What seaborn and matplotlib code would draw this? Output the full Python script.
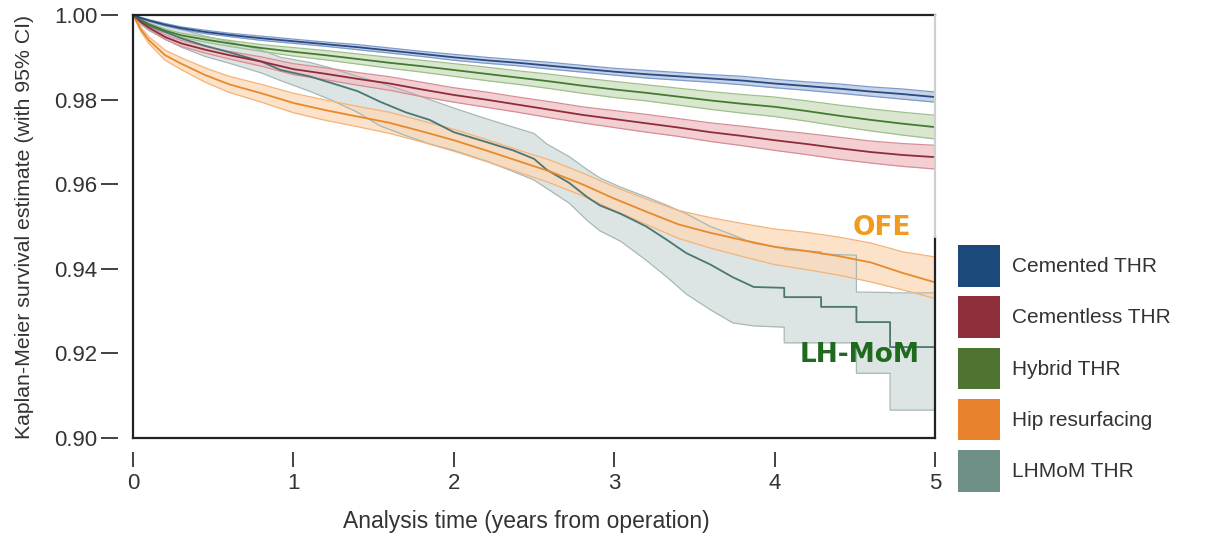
import numpy as np
import pandas as pd
import matplotlib
matplotlib.use("Agg")
import matplotlib.pyplot as plt
from matplotlib.patches import Patch
import seaborn as sns

# ---------------- data ----------------
T_MAIN = [0, 0.05, 0.1, 0.2, 0.3, 0.45, 0.6, 0.8, 1.0, 1.2, 1.4, 1.6, 1.8, 2.0, 2.2,
          2.4, 2.6, 2.8, 3.0, 3.2, 3.4, 3.6, 3.8, 4.0, 4.2, 4.4, 4.6, 4.8, 5.0]

cemented_est = [1.0, 0.9993, 0.9987, 0.9977, 0.9969, 0.9960, 0.9953, 0.9945, 0.9938, 0.9931,
                0.9924, 0.9916, 0.9908, 0.9900, 0.9893, 0.9887, 0.9880, 0.9873, 0.9866, 0.9860,
                0.9855, 0.9850, 0.9845, 0.9838, 0.9832, 0.9826, 0.9819, 0.9813, 0.9806]
cemented_lo = [1.0, 0.9992, 0.9985, 0.9974, 0.9966, 0.9956, 0.9949, 0.9940, 0.9933, 0.9926,
               0.9918, 0.9910, 0.9902, 0.9893, 0.9886, 0.9880, 0.9872, 0.9865, 0.9858, 0.9851,
               0.9846, 0.9841, 0.9835, 0.9828, 0.9822, 0.9815, 0.9808, 0.9801, 0.9794]
cemented_hi = [1.0, 0.9994, 0.9989, 0.9980, 0.9972, 0.9964, 0.9957, 0.9950, 0.9943, 0.9936,
               0.9930, 0.9922, 0.9914, 0.9907, 0.9900, 0.9894, 0.9888, 0.9881, 0.9874, 0.9869,
               0.9864, 0.9859, 0.9855, 0.9848, 0.9842, 0.9837, 0.9830, 0.9825, 0.9818]

hybrid_est = [1.0, 0.9988, 0.9978, 0.9963, 0.9952, 0.9942, 0.9933, 0.9922, 0.9913, 0.9905,
              0.9896, 0.9887, 0.9879, 0.9870, 0.9861, 0.9852, 0.9843, 0.9833, 0.9824, 0.9816,
              0.9807, 0.9798, 0.9790, 0.9783, 0.9773, 0.9762, 0.9752, 0.9743, 0.9735]
hybrid_lo = [1.0, 0.9986, 0.9975, 0.9959, 0.9947, 0.9936, 0.9926, 0.9914, 0.9903, 0.9894,
             0.9884, 0.9874, 0.9865, 0.9855, 0.9845, 0.9836, 0.9826, 0.9815, 0.9805, 0.9797,
             0.9787, 0.9777, 0.9768, 0.9760, 0.9749, 0.9737, 0.9726, 0.9716, 0.9707]
hybrid_hi = [1.0, 0.9990, 0.9981, 0.9967, 0.9957, 0.9948, 0.9940, 0.9930, 0.9923, 0.9916,
             0.9908, 0.9900, 0.9893, 0.9885, 0.9877, 0.9868, 0.9860, 0.9851, 0.9843, 0.9835,
             0.9827, 0.9819, 0.9812, 0.9806, 0.9797, 0.9787, 0.9778, 0.9770, 0.9763]

cementless_est = [1.0, 0.9983, 0.9970, 0.9948, 0.9933, 0.9918, 0.9905, 0.9890, 0.9872, 0.9861,
                  0.9849, 0.9838, 0.9824, 0.9811, 0.9800, 0.9788, 0.9776, 0.9764, 0.9754, 0.9744,
                  0.9734, 0.9723, 0.9714, 0.9704, 0.9695, 0.9685, 0.9676, 0.9669, 0.9664]
cementless_lo = [1.0, 0.9980, 0.9966, 0.9942, 0.9926, 0.9910, 0.9896, 0.9879, 0.9859, 0.9847,
                 0.9834, 0.9822, 0.9807, 0.9794, 0.9782, 0.9770, 0.9757, 0.9745, 0.9734, 0.9723,
                 0.9713, 0.9701, 0.9691, 0.9680, 0.9670, 0.9659, 0.9650, 0.9642, 0.9636]
cementless_hi = [1.0, 0.9986, 0.9974, 0.9954, 0.9940, 0.9926, 0.9914, 0.9901, 0.9885, 0.9875,
                 0.9864, 0.9854, 0.9841, 0.9828, 0.9818, 0.9806, 0.9795, 0.9783, 0.9774, 0.9765,
                 0.9755, 0.9745, 0.9737, 0.9728, 0.9720, 0.9711, 0.9702, 0.9696, 0.9692]

resurfacing_est = [1.0, 0.9965, 0.9940, 0.9905, 0.9885, 0.9858, 0.9836, 0.9815, 0.9792, 0.9775,
                   0.9760, 0.9745, 0.9725, 0.9704, 0.9680, 0.9655, 0.9630, 0.9600, 0.9566, 0.9535,
                   0.9505, 0.9485, 0.9468, 0.9452, 0.9442, 0.9430, 0.9415, 0.9390, 0.9368]
resurfacing_lo = [1.0, 0.9960, 0.9932, 0.9893, 0.9871, 0.9841, 0.9817, 0.9794, 0.9769, 0.9751,
                  0.9736, 0.9720, 0.9700, 0.9678, 0.9654, 0.9629, 0.9603, 0.9573, 0.9538, 0.9505,
                  0.9472, 0.9449, 0.9429, 0.9410, 0.9398, 0.9385, 0.9369, 0.9350, 0.9330]
resurfacing_hi = [1.0, 0.9970, 0.9948, 0.9917, 0.9899, 0.9875, 0.9855, 0.9836, 0.9815, 0.9799,
                  0.9784, 0.9770, 0.9750, 0.9730, 0.9706, 0.9681, 0.9657, 0.9627, 0.9594, 0.9565,
                  0.9538, 0.9521, 0.9507, 0.9494, 0.9486, 0.9475, 0.9461, 0.9440, 0.9428]

T_LHMOM = [0, 0.05, 0.1, 0.2, 0.3, 0.45, 0.6, 0.8, 0.92, 1.1, 1.23, 1.4, 1.54, 1.7, 1.85,
           2.0, 2.2, 2.37, 2.5, 2.58, 2.72, 2.83, 2.91, 3.04, 3.2, 3.33, 3.45, 3.6, 3.74,
           3.87, 4.06, 4.06, 4.29, 4.29, 4.51, 4.51, 4.72, 4.72, 5.0]
lhmom_est = [1.0, 0.9985, 0.9975, 0.9960, 0.9945, 0.9927, 0.9912, 0.9890, 0.9870, 0.9855,
             0.9840, 0.9820, 0.9795, 0.9770, 0.9752, 0.9723, 0.9700, 0.9680, 0.9660, 0.9634,
             0.9603, 0.9570, 0.9550, 0.9530, 0.9500, 0.9468, 0.9437, 0.9410, 0.9380, 0.9357,
             0.9355, 0.9333, 0.9333, 0.9310, 0.9310, 0.9274, 0.9274, 0.9215, 0.9215]
lhmom_hi = [1.0, 0.9993, 0.9987, 0.9977, 0.9966, 0.9950, 0.9937, 0.9917, 0.9900, 0.9888,
            0.9875, 0.9855, 0.9840, 0.9820, 0.9800, 0.9780, 0.9755, 0.9735, 0.9720, 0.9695,
            0.9665, 0.9635, 0.9615, 0.9593, 0.9570, 0.9550, 0.9530, 0.9500, 0.9480, 0.9460,
            0.9448, 0.9445, 0.9440, 0.9435, 0.9432, 0.9345, 0.9344, 0.9343, 0.9343]
lhmom_lo = [1.0, 0.9977, 0.9963, 0.9943, 0.9924, 0.9902, 0.9886, 0.9863, 0.9845, 0.9820,
            0.9800, 0.9770, 0.9738, 0.9715, 0.9695, 0.9680, 0.9655, 0.9630, 0.9610, 0.9590,
            0.9555, 0.9515, 0.9490, 0.9465, 0.9420, 0.9380, 0.9340, 0.9303, 0.9272, 0.9265,
            0.9262, 0.9225, 0.9225, 0.9225, 0.9225, 0.9153, 0.9153, 0.9066, 0.9066]

GROUPS = ["Cemented THR", "Cementless THR", "Hybrid THR", "Hip resurfacing", "LHMoM THR"]
Y_TICKS = [0.90, 0.92, 0.94, 0.96, 0.98, 1.00]
X_TICKS = [0, 1, 2, 3, 4, 5]

# ---------------- styling ----------------
LINE_COL = {"Cemented THR": "#2b4a80", "Cementless THR": "#8e2c3c", "Hybrid THR": "#437a31",
            "Hip resurfacing": "#e8892c", "LHMoM THR": "#4a7674"}
FILL_COL = {"Cemented THR": "#b3c6e4", "Cementless THR": "#efbfc4", "Hybrid THR": "#cde0c0",
            "Hip resurfacing": "#fcd9b6", "LHMoM THR": "#d2dcdb"}
EDGE_COL = {"Cemented THR": "#7d9acb", "Cementless THR": "#d58e98", "Hybrid THR": "#9fbf8c",
            "Hip resurfacing": "#f3b47a", "LHMoM THR": "#a7b8b7"}
LEG_COL = {"Cemented THR": "#1b4a7a", "Cementless THR": "#8f2f3b", "Hybrid THR": "#4f7331",
           "Hip resurfacing": "#e8822a", "LHMoM THR": "#6e9087"}

series = {
    "Cemented THR": (T_MAIN, cemented_est, cemented_lo, cemented_hi),
    "Cementless THR": (T_MAIN, cementless_est, cementless_lo, cementless_hi),
    "Hybrid THR": (T_MAIN, hybrid_est, hybrid_lo, hybrid_hi),
    "Hip resurfacing": (T_MAIN, resurfacing_est, resurfacing_lo, resurfacing_hi),
    "LHMoM THR": (T_LHMOM, lhmom_est, lhmom_lo, lhmom_hi),
}

sns.set_style("white")
plt.rcParams["font.family"] = ["Liberation Sans", "DejaVu Sans"]
plt.rcParams["text.color"] = "#333333"

W, H = 1206, 534
fig = plt.figure(figsize=(W / 100, H / 100), dpi=100)
L, R, T, B = 133, 935, 15, 438
ax = fig.add_axes([L / W, 1 - B / H, (R - L) / W, (B - T) / H])

# bands (draw the LHMoM band first so others sit on top)
band_order = ["LHMoM THR", "Hip resurfacing", "Cementless THR", "Hybrid THR", "Cemented THR"]
for g in band_order:
    t, est, lo, hi = series[g]
    ax.fill_between(t, lo, hi, color=FILL_COL[g], alpha=0.75, linewidth=0, zorder=1)
    ax.plot(t, lo, color=EDGE_COL[g], lw=0.9, zorder=2)
    ax.plot(t, hi, color=EDGE_COL[g], lw=0.9, zorder=2)

rows = []
for g in GROUPS:
    t, est, lo, hi = series[g]
    for ti, ei in zip(t, est):
        rows.append({"time": ti, "survival": ei, "group": g})
df = pd.DataFrame(rows)

sns.lineplot(data=df, x="time", y="survival", hue="group", hue_order=band_order,
             palette=LINE_COL, estimator=None, sort=False,
             legend=False, lw=1.3, ax=ax, zorder=3)

ax.set_xlim(0, 5)
ax.set_ylim(0.90, 1.00)
ax.set_xticks(X_TICKS)
ax.set_xticklabels([str(x) for x in X_TICKS], family="DejaVu Sans")
ax.set_yticks(Y_TICKS)
ax.set_yticklabels([f"{y:.2f}" for y in Y_TICKS], family="DejaVu Sans")

# detached ticks, frame drawn separately
for s in ["left", "bottom", "right", "top"]:
    ax.spines[s].set_color("none")
ax.spines["left"].set_position(("outward", 10.8))
ax.spines["bottom"].set_position(("outward", 10))
ax.tick_params(axis="y", direction="out", length=12, width=1.3, color="#333333",
               pad=3, labelsize=16, labelcolor="#333333", left=True)
ax.tick_params(axis="x", direction="out", length=10.5, width=1.3, color="#333333",
               pad=5, labelsize=16, labelcolor="#333333", bottom=True)

fr = dict(color="#222222", lw=1.6, solid_capstyle="projecting", clip_on=False, zorder=5,
          transform=ax.transAxes)
ax.plot([0, 0], [0, 1], **fr)
ax.plot([0, 1], [0, 0], **fr)
ax.plot([0, 1], [1, 1], **fr)
cut = (B - 237) / (B - T)
ax.plot([1, 1], [0, cut], **fr)
ax.plot([1, 1], [cut, 1], color="#cfcfcf", lw=1.6, clip_on=False, zorder=5,
        transform=ax.transAxes)

ax.set_xlabel("Analysis time (years from operation)", fontsize=16.5, color="#333333")
ax.set_ylabel("Kaplan-Meier survival estimate (with 95% CI)", fontsize=15.3, color="#333333")
ax.xaxis.set_label_coords(0.49, -0.17)
ax.yaxis.set_label_coords(-0.123, 0.5)

ax.text(4.67, 0.9496, "OFE", color="#f09a1e", fontsize=19, fontweight="bold",
        family="DejaVu Sans", ha="center", va="center", zorder=6)
ax.text(4.53, 0.9196, "LH-MoM", color="#1f6a1f", fontsize=19, fontweight="bold",
        family="DejaVu Sans", ha="center", va="center", zorder=6)

handles = [Patch(facecolor=LEG_COL[g], edgecolor="none") for g in GROUPS]
fig.legend(handles, GROUPS, loc="upper left", bbox_to_anchor=(958 / W, 1 - 245 / H),
           frameon=False, fontsize=15, handlelength=2.0, handleheight=2.7,
           handletextpad=0.6, labelspacing=0.46, borderpad=0, borderaxespad=0,
           labelcolor="#333333")

fig.savefig("out.png", dpi=100, facecolor="white")
